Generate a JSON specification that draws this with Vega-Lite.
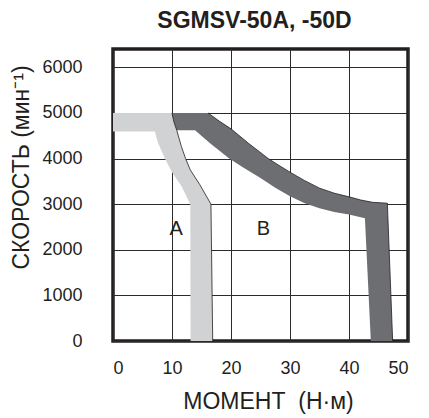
{
  "$schema": "https://vega.github.io/schema/vega-lite/v6.json",
  "autosize": "none",
  "width": 295,
  "height": 292,
  "padding": {"left": 113, "top": 49, "right": 21, "bottom": 77},
  "background": "white",
  "title": {"text": "SGMSV-50A, -50D", "font": "Liberation Sans", "fontSize": 23, "fontWeight": "bold", "color": "#231f20", "offset": 16, "dx": -6},
  "config": {
    "view": {"stroke": "#231f20", "strokeWidth": 3.5},
    "axis": {"grid": true, "gridColor": "#2b2b2b", "gridWidth": 1, "gridOpacity": 1, "domain": false, "ticks": false, "labelFont": "Liberation Sans", "labelFontSize": 18, "labelColor": "#231f20", "titleFont": "Liberation Sans", "titleFontSize": 23, "titleFontWeight": "normal", "titleColor": "#231f20", "zindex": 1, "format": "d"}
  },
  "datasets": {
    "polyA": [
      {"i": 0, "x": 0, "y": 5000}, {"i": 1, "x": 10, "y": 5000}, {"i": 2, "x": 10.3, "y": 4810}, {"i": 3, "x": 10.8, "y": 4620},
      {"i": 4, "x": 11.6, "y": 4260}, {"i": 5, "x": 12.3, "y": 4000}, {"i": 6, "x": 13.1, "y": 3750}, {"i": 7, "x": 14.7, "y": 3430},
      {"i": 8, "x": 16.6, "y": 3000}, {"i": 9, "x": 16.9, "y": 0}, {"i": 10, "x": 13.15, "y": 0}, {"i": 11, "x": 13.1, "y": 3000},
      {"i": 12, "x": 11.6, "y": 3400}, {"i": 13, "x": 10.0, "y": 3700}, {"i": 14, "x": 8.8, "y": 4000}, {"i": 15, "x": 7.6, "y": 4350},
      {"i": 16, "x": 7.1, "y": 4590}, {"i": 17, "x": 0, "y": 4590}
    ],
    "polyB": [
      {"i": 0, "x": 10, "y": 5000}, {"i": 1, "x": 16.1, "y": 5000}, {"i": 2, "x": 18, "y": 4820}, {"i": 3, "x": 20, "y": 4650},
      {"i": 4, "x": 23, "y": 4330}, {"i": 5, "x": 26.3, "y": 4000}, {"i": 6, "x": 28, "y": 3860}, {"i": 7, "x": 30, "y": 3700},
      {"i": 8, "x": 32.5, "y": 3515}, {"i": 9, "x": 35, "y": 3350}, {"i": 10, "x": 37.5, "y": 3240}, {"i": 11, "x": 40, "y": 3160},
      {"i": 12, "x": 42, "y": 3090}, {"i": 13, "x": 44, "y": 3040}, {"i": 14, "x": 46.5, "y": 3020}, {"i": 15, "x": 47.4, "y": 0},
      {"i": 16, "x": 43.7, "y": 0}, {"i": 17, "x": 42.7, "y": 2690}, {"i": 18, "x": 40, "y": 2770}, {"i": 19, "x": 37.5, "y": 2830},
      {"i": 20, "x": 35, "y": 2910}, {"i": 21, "x": 32.5, "y": 3020}, {"i": 22, "x": 30, "y": 3170}, {"i": 23, "x": 27.5, "y": 3360},
      {"i": 24, "x": 25, "y": 3570}, {"i": 25, "x": 22, "y": 3810}, {"i": 26, "x": 19.7, "y": 4000}, {"i": 27, "x": 16.5, "y": 4330},
      {"i": 28, "x": 13.9, "y": 4620}, {"i": 29, "x": 10.8, "y": 4620}, {"i": 30, "x": 10.3, "y": 4810}
    ],
    "edges": [
      {"s": "A", "i": 1, "x": 10, "y": 5000}, {"s": "A", "i": 2, "x": 10.3, "y": 4810}, {"s": "A", "i": 3, "x": 10.8, "y": 4620},
      {"s": "A", "i": 4, "x": 11.6, "y": 4260}, {"s": "A", "i": 5, "x": 12.3, "y": 4000}, {"s": "A", "i": 6, "x": 13.1, "y": 3750},
      {"s": "A", "i": 7, "x": 14.7, "y": 3430}, {"s": "A", "i": 8, "x": 16.6, "y": 3000}, {"s": "A", "i": 9, "x": 16.9, "y": 0},
      {"s": "B", "i": 1, "x": 16.1, "y": 5000}, {"s": "B", "i": 2, "x": 18, "y": 4820}, {"s": "B", "i": 3, "x": 20, "y": 4650},
      {"s": "B", "i": 4, "x": 23, "y": 4330}, {"s": "B", "i": 5, "x": 26.3, "y": 4000}, {"s": "B", "i": 6, "x": 28, "y": 3860},
      {"s": "B", "i": 7, "x": 30, "y": 3700}, {"s": "B", "i": 8, "x": 32.5, "y": 3515}, {"s": "B", "i": 9, "x": 35, "y": 3350},
      {"s": "B", "i": 10, "x": 37.5, "y": 3240}, {"s": "B", "i": 11, "x": 40, "y": 3160}, {"s": "B", "i": 12, "x": 42, "y": 3090},
      {"s": "B", "i": 13, "x": 44, "y": 3040}, {"s": "B", "i": 14, "x": 46.5, "y": 3020}, {"s": "B", "i": 15, "x": 47.4, "y": 0}
    ],
    "labels": [
      {"t": "A", "x": 10.7, "y": 2450},
      {"t": "B", "x": 25.5, "y": 2450}
    ]
  },
  "encoding": {
    "x": {"field": "x", "type": "quantitative", "scale": {"domain": [0, 50], "nice": false}, "axis": {"values": [0, 10, 20, 30, 40, 50], "title": "МОМЕНТ\u00a0\u00a0(Н·м)", "labelPadding": 18, "titlePadding": 13, "titleX": 155}},
    "y": {"field": "y", "type": "quantitative", "scale": {"domain": [0, 6400], "nice": false}, "axis": {"values": [0, 1000, 2000, 3000, 4000, 5000, 6000], "title": "СКОРОСТЬ (мин⁻¹)", "labelPadding": 31, "titlePadding": 8, "titleY": 118}}
  },
  "layer": [
    {"data": {"name": "polyA"}, "mark": {"type": "line", "fill": "#d1d2d4", "stroke": null, "strokeWidth": 0, "clip": true}, "encoding": {"order": {"field": "i", "type": "quantitative"}}},
    {"data": {"name": "polyB"}, "mark": {"type": "line", "fill": "#6d6e71", "stroke": null, "strokeWidth": 0, "clip": true}, "encoding": {"order": {"field": "i", "type": "quantitative"}}},
    {"data": {"name": "edges"}, "mark": {"type": "line", "color": "#231f20", "strokeWidth": 0.8, "clip": true}, "encoding": {"detail": {"field": "s"}, "order": {"field": "i", "type": "quantitative"}}},
    {"data": {"name": "labels"}, "mark": {"type": "text", "font": "Liberation Sans", "fontSize": 20, "color": "#231f20"}, "encoding": {"text": {"field": "t"}}}
  ]
}
